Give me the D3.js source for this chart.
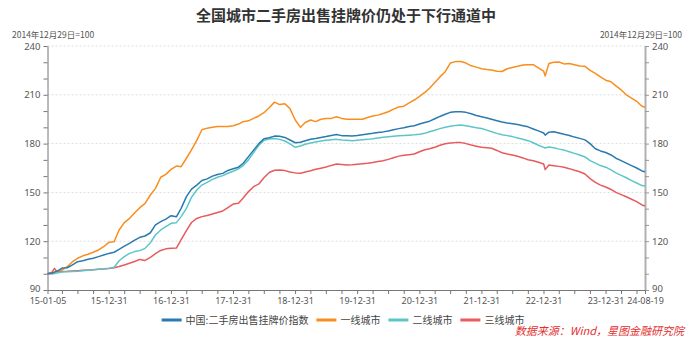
<!DOCTYPE html>
<html>
<head>
<meta charset="utf-8">
<script src="https://cdn.jsdelivr.net/npm/d3@7"></script>
<style>
  html, body { margin: 0; padding: 0; background: #fff; }
  svg { display: block; font-family: "Noto Sans CJK SC", "Noto Sans", sans-serif; }
</style>
</head>
<body>
<svg id="chart" width="692" height="344"></svg>
<script>
// Observation dates (monthly, plus a few intra-month readings)
const dates = [
  "2015-01-05","2015-02","2015-02-15","2015-03","2015-04","2015-05","2015-06","2015-07","2015-08","2015-09","2015-10","2015-11","2015-12",
  "2016-01","2016-02","2016-03","2016-04","2016-05","2016-06","2016-07","2016-08","2016-09","2016-10","2016-11","2016-12",
  "2017-01","2017-02","2017-03","2017-04","2017-05","2017-06","2017-07","2017-08","2017-09","2017-10","2017-11","2017-12",
  "2018-01","2018-02","2018-03","2018-04","2018-05","2018-06","2018-07","2018-08","2018-09","2018-10","2018-11","2018-12",
  "2019-01","2019-02","2019-03","2019-04","2019-05","2019-06","2019-07","2019-08","2019-09","2019-10","2019-11","2019-12",
  "2020-01","2020-02","2020-03","2020-04","2020-05","2020-06","2020-07","2020-08","2020-09","2020-10","2020-11","2020-12",
  "2021-01","2021-02","2021-03","2021-04","2021-05","2021-06","2021-07","2021-08","2021-09","2021-10","2021-11","2021-12",
  "2022-01","2022-02","2022-03","2022-04","2022-05","2022-06","2022-07","2022-08","2022-09","2022-10","2022-11","2022-12",
  "2023-01","2023-01-10","2023-02","2023-03","2023-04","2023-05","2023-06","2023-07","2023-08","2023-09","2023-10","2023-11","2023-12",
  "2024-01","2024-02","2024-03","2024-04","2024-05","2024-06","2024-07","2024-08","2024-08-19"
];

// 中国:二手房出售挂牌价指数
const national = [
  100,100.5,101,101.5,103.5,103.7,105.4,107.4,108,108.9,109.5,110.5,111.5,
  112.5,113.2,115,117,118.7,120.7,122.4,123.2,125.2,130,132,133.6,
  135.7,135,140.2,147.4,152,154.5,157.3,158.3,160,161,161.7,163.5,
  164.5,165.5,167.9,172,176,180,183,183.6,184.6,184.5,183.8,182.2,
  180.5,180.8,181.8,182.7,183.1,183.7,184.3,185,185.6,184.9,184.8,184.7,
  185,185.5,185.9,186.3,186.8,187.2,187.8,188.5,189.2,189.8,190.5,191,
  192,193,193.8,195.3,196.7,198,199.2,199.6,199.6,199.2,198.3,197.3,
  196.5,195.7,195,194.1,193.3,192.7,192.2,191.7,191,190.3,189,187.8,
  186.5,185.2,187,187.3,186.5,185.7,185,184,183.2,182.3,180,176.8,175.5,
  174.5,173,171,169.5,168,166.5,165,163.2,162.7
];

// 一线城市
const tier1 = [
  100,100.5,101,101.5,102.3,104.3,107.4,109.5,111,112,113.2,114.6,116.6,
  119.3,119.7,126.9,131.4,134,137.5,140.6,143.3,148.4,152.5,159.3,161.1,
  164.2,166.2,165.8,171,176.1,182,188.5,189.5,190,190.5,190.5,190.5,
  191,192,193.5,194,195.5,197,199,202,205.5,204,204.5,201.5,
  194.5,190,193,194.5,193.5,195,195.5,195.5,196.5,195.5,195,195,
  195,195,196,197,197.5,198.5,199.6,201.2,202.5,203,205,206.8,
  209,211.5,214,217.5,221,224.2,229.5,230.4,230.5,229.5,227.8,227,
  226,225.5,225.2,224.5,224.3,226,226.8,227.5,228.3,228.5,228.5,226.5,
  224.5,221.6,229.3,230,230.2,229,229.3,228.5,227.7,227.5,225,223.2,221,
  219,218,215.5,213,210,208,206,203,202.3
];

// 二线城市
const tier2 = [
  100,99.9,100.2,100.5,101,101.2,101.4,101.6,101.9,102.2,102.4,102.7,103,
  103.4,104,108,110.5,112.5,113.6,114.2,115.6,119.1,123.8,126.9,128.9,
  131,131.4,135.1,140.2,147,151.5,154.5,156.2,158,159.3,160.3,161.8,
  163,164.5,166.5,170,174.5,179,182,182.8,183.2,182.6,181.6,179.8,
  177.7,178.5,179.6,180.4,181,181.6,182,182.4,182.6,182.2,182,181.8,
  182.1,182.4,182.6,183,183.5,183.9,184.2,184.5,184.8,185,185.2,185.4,
  185.8,186.3,187.3,188.2,189.2,190,190.7,191.2,191.4,191,190.4,189.8,
  189.3,188.3,187.3,186.3,185.5,184.9,184.3,183.5,182.7,181.8,180.5,179,
  177.7,177.3,177.9,177.4,176.6,176,175,174,173,171.8,169.5,168,166.5,
  165.5,163.8,162,160.5,159,157.2,155.8,154.2,153.9
];

// 三线城市
const tier3 = [
  100,101,103.3,101.2,101.4,101.5,101.7,101.9,102.1,102.3,102.5,102.7,102.9,
  103.2,103.7,104.4,105.4,106.4,107.5,108.8,108.2,110,112.3,114.3,115.3,
  115.6,115.8,121,126.5,131.5,134,135.1,135.8,136.7,137.6,138.6,140.6,
  142.8,143.3,146.5,150.5,153.5,155.2,159,162.2,163.6,163.8,163.4,162.5,
  162,161.8,162.5,163.3,164.2,164.9,165.6,166.6,167.4,167.2,166.8,167,
  167.3,167.6,167.9,168.4,169,169.4,170.3,171.3,172.3,172.8,173.2,173.6,
  175,176.2,176.8,177.8,179,179.9,180.4,180.6,180.6,180,179.1,178.4,
  177.7,177.4,177.1,175.8,174.4,173.6,173,172.2,171.2,170.1,169.4,168.5,
  167.5,164,166.8,166.4,166,165.4,164.6,163.6,162.7,161.3,158.5,156.2,154.5,
  153.3,151.8,150,148.6,147.3,145.8,144.3,142.3,141.6
];

const seriesNames = ["中国:二手房出售挂牌价指数", "一线城市", "二线城市", "三线城市"];
const seriesColors = ["#2a7ab0", "#f98e1d", "#5cc6c6", "#e85a5b"];
const xTickLabels = ["15-01-05","15-12-31","16-12-31","17-12-31","18-12-31","19-12-31","20-12-31","21-12-31","22-12-31","23-12-31","24-08-19"];
const yTickLabels = [90, 120, 150, 180, 210, 240];
const titleText = "全国城市二手房出售挂牌价仍处于下行通道中";
const unitText = "2014年12月29日=100";
const sourceText = "数据来源：Wind，星图金融研究院";

const svg = d3.select("#chart");
const W = 692, H = 344;
const plotL = 47.5, plotR = 645, plotT = 46, plotB = 290;
const numFont = "'Liberation Sans Narrow', 'Noto Sans', sans-serif";

const parseDay = d3.timeParse("%Y-%m-%d");
const parseDate = s => parseDay(s.length === 7 ? s + "-01" : s);
const parseTick = d3.timeParse("%y-%m-%d");
const fmtTick = d3.timeFormat("%y-%m-%d");

const xDates = dates.map(parseDate);
const x = d3.scaleTime()
  .domain([parseTick(xTickLabels[0]), parseTick(xTickLabels[xTickLabels.length - 1])])
  .range([plotL, plotR]);
const y = d3.scaleLinear().domain([90, 240]).range([plotB, plotT]);

svg.append("rect").attr("width", W).attr("height", H).attr("fill", "#fff");

// title
svg.append("text")
  .attr("x", 346).attr("y", 21)
  .attr("text-anchor", "middle")
  .attr("font-size", 15).attr("font-weight", "bold").attr("fill", "#333")
  .text(titleText);

// unit captions over both y axes
svg.append("text").attr("x", 12).attr("y", 37.5)
  .attr("font-size", 8.5).attr("fill", "#555").text(unitText);
svg.append("text").attr("x", 682).attr("y", 37.5).attr("text-anchor", "end")
  .attr("font-size", 8.5).attr("fill", "#555").text(unitText);

// dashed horizontal gridlines
svg.append("g").selectAll("line")
  .data(yTickLabels.filter(v => v > 90))
  .join("line")
  .attr("x1", plotL).attr("x2", plotR)
  .attr("y1", d => y(d)).attr("y2", d => y(d))
  .attr("stroke", "#dcdcdc").attr("stroke-width", 1)
  .attr("stroke-dasharray", "2,2");

// y axes: minor ticks every 10, labels every 30
const yTicks = d3.range(90, 241, 10);
const yFmt = d => yTickLabels.includes(d) ? d : "";

function styleY(g, domainColor, domainWidth, tickColor) {
  g.select(".domain").attr("stroke", domainColor).attr("stroke-width", domainWidth);
  g.selectAll(".tick line").attr("stroke", tickColor);
  g.selectAll("text").attr("font-size", 9.5).attr("fill", "#555").attr("font-family", numFont);
  // lift the bottom label a little so it clears the date labels below
  g.selectAll(".tick").filter(d => d === 90).select("text").attr("y", -2);
}

const gL = svg.append("g").attr("transform", `translate(${plotL},0)`)
  .call(d3.axisLeft(y).tickValues(yTicks).tickSize(4).tickSizeOuter(0).tickFormat(yFmt));
styleY(gL, "#777", 1, "#777");

const gR = svg.append("g").attr("transform", `translate(${plotR},0)`)
  .call(d3.axisRight(y).tickValues(yTicks).tickSize(4).tickSizeOuter(0).tickFormat(yFmt));
styleY(gR, "#b0b0b0", 2, "#999");

// x axis: quarter-end ticks, labels at the year ends and the two endpoints
const [d0, d1] = x.domain();
const quarterEnds = d3.timeMonth.every(3).range(d0, d1)
  .map(d => d3.timeDay.offset(d, -1))
  .filter(d => d > d0 && d < d1);
const xTickVals = [d0, ...quarterEnds, d1];
const gX = svg.append("g").attr("transform", `translate(0,${plotB})`)
  .call(d3.axisBottom(x).tickValues(xTickVals).tickSize(4).tickPadding(4).tickSizeOuter(0)
    .tickFormat(d => { const s = fmtTick(d); return xTickLabels.includes(s) ? s : ""; }));
gX.select(".domain").attr("stroke", "#777");
gX.selectAll(".tick line").attr("stroke", "#777");
gX.selectAll("text").attr("font-size", 9).attr("fill", "#555").attr("font-family", numFont);

// series lines
const allSeries = [national, tier1, tier2, tier3];
const line = d3.line()
  .x((d, i) => x(xDates[i]))
  .y(d => y(d));

// draw back to front so the national index sits above the city tiers
const drawOrder = [3, 2, 1, 0];
svg.append("g").selectAll("path")
  .data(drawOrder)
  .join("path")
  .attr("d", k => line(allSeries[k]))
  .attr("fill", "none")
  .attr("stroke", k => seriesColors[k])
  .attr("stroke-width", 1.5)
  .attr("stroke-linejoin", "round");

// legend
const legend = svg.append("g").attr("font-size", 10).attr("fill", "#444");
let lx = 0;
seriesNames.forEach((name, i) => {
  const g = legend.append("g").attr("transform", `translate(${lx},0)`);
  g.append("line").attr("x1", 0).attr("x2", 20).attr("y1", 0).attr("y2", 0)
    .attr("stroke", seriesColors[i]).attr("stroke-width", 3);
  const t = g.append("text").attr("x", 24).attr("y", 3.5).text(name);
  const w = t.node().getComputedTextLength();
  lx += 24 + w + 8;
});
const legendWidth = lx - 8;
legend.attr("transform", `translate(${343 - legendWidth / 2},320)`);

// source note
svg.append("text")
  .attr("x", 684).attr("y", 335)
  .attr("text-anchor", "end")
  .attr("font-size", 11).attr("font-style", "italic").attr("fill", "#e3302f")
  .text(sourceText);
</script>
</body>
</html>
